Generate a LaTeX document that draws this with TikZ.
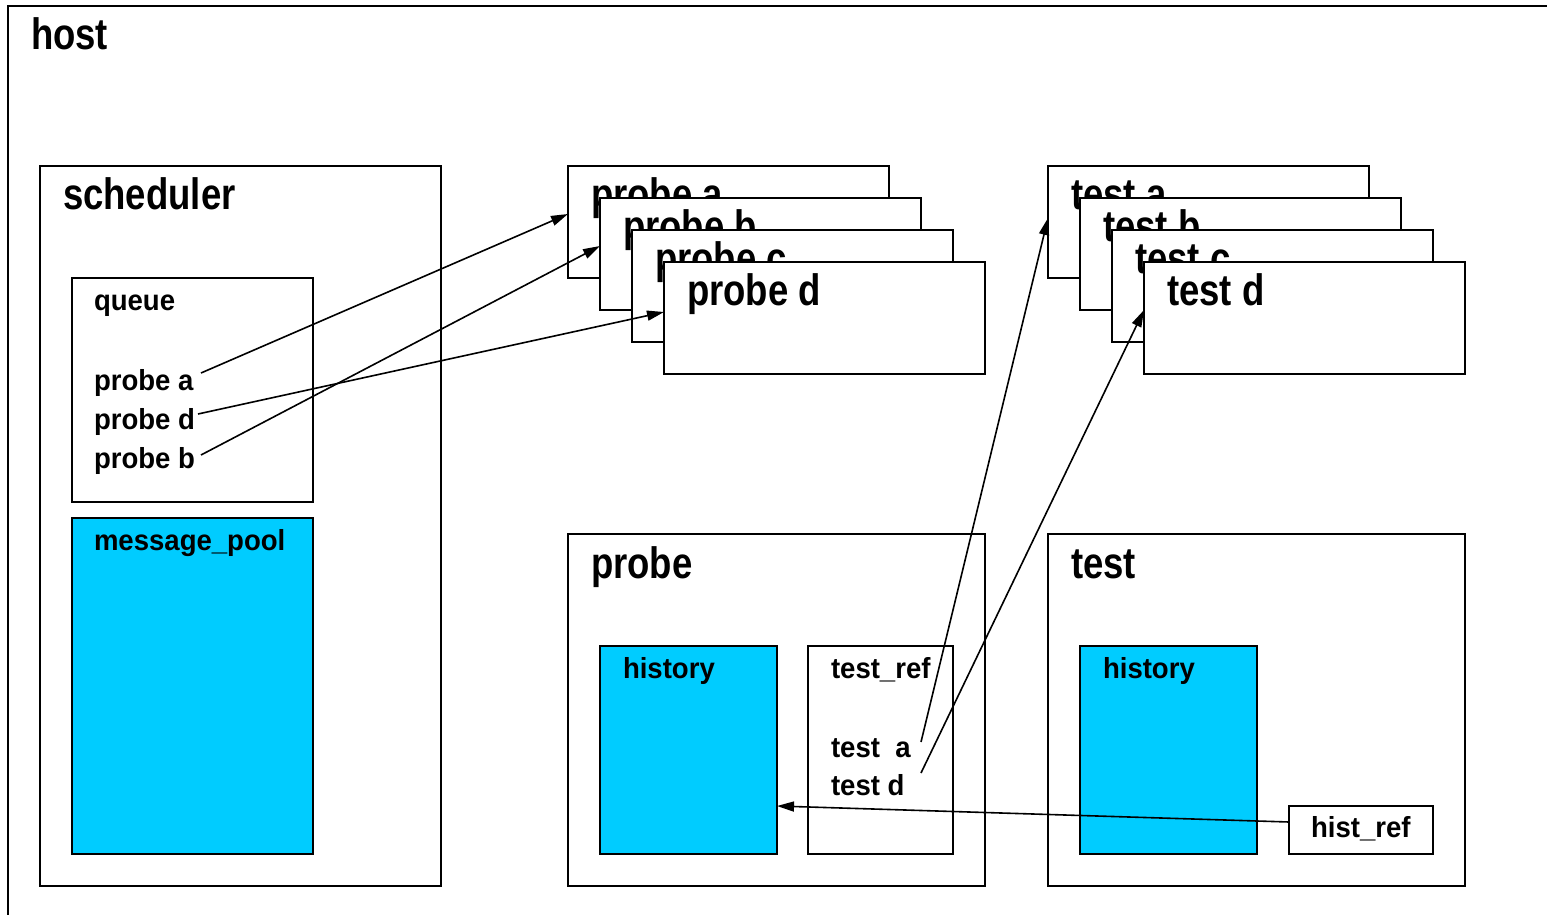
\documentclass[tikz,border=0pt]{standalone}
\usepackage{fontspec}
\setmainfont{Liberation Sans}[FakeStretch=0.95]
\newfontfamily\narrowfont{Liberation Sans}[FakeStretch=0.83]
\usetikzlibrary{
	arrows.meta,
	positioning,
	calc
}
\definecolor{poolblue}{HTML}{00CCFF}

\begin{document}
\begin{tikzpicture}[x=1pt, y=-1pt, line width=2pt,
		box/.style={draw, fill=white, rectangle, inner sep=0, outer sep=0, anchor=north west},
		pool/.style={box, fill=poolblue},
		big/.style={font=\narrowfont\fontsize{44}{50}\selectfont\bfseries, inner sep=0, anchor=base west},
		small/.style={font=\fontsize{29}{34}\selectfont\bfseries, inner sep=0, anchor=base west},
		arr/.style={-{Triangle[length=17pt,width=10pt]}, line width=1.6pt}]

		\useasboundingbox (0,0) rectangle (1547,915);
		\clip (0,0) rectangle (1547,915);

		% host
		\node[box, minimum width=1570pt, minimum height=940pt] (H) at (8,6) {};
		\node[big] (Hl) at ($(H.north west)+(22,44)$) {host};

		% scheduler
		\node[box, minimum width=401pt, minimum height=720pt] (S) at (40,166) {};
		\node[big] (Sl) at ($(S.north west)+(22,43)$) {scheduler};

		\node[box, minimum width=241pt, minimum height=224pt] (Q) at (72,278) {};
		\node[small] (Ql) at ($(Q.north west)+(21,32)$) {queue};
		\node[small] (qa) at ($(Ql.base west)+(0,80)$) {probe a};
		\node[small] (qd) at ($(Ql.base west)+(0,119)$) {probe d};
		\node[small] (qb) at ($(Ql.base west)+(0,158)$) {probe b};

		\node[pool, minimum width=241pt, minimum height=336pt] (M) at (72,518) {};
		\node[small] (Ml) at ($(M.north west)+(21,32)$) {message\_pool};

		% probe stack
		\node[box, minimum width=321pt, minimum height=112pt] (P1) at (568,166) {};
		\node[big] at ($(P1.north west)+(22,43)$) {probe a};
		\node[box, minimum width=321pt, minimum height=112pt] (P2) at (600,198) {};
		\node[big] at ($(P2.north west)+(22,43)$) {probe b};
		\node[box, minimum width=321pt, minimum height=112pt] (P3) at (632,230) {};
		\node[big] at ($(P3.north west)+(22,43)$) {probe c};
		\node[box, minimum width=321pt, minimum height=112pt] (P4) at (664,262) {};
		\node[big] at ($(P4.north west)+(22,43)$) {probe d};

		% test stack
		\node[box, minimum width=321pt, minimum height=112pt] (T1) at (1048,166) {};
		\node[big] at ($(T1.north west)+(22,43)$) {test a};
		\node[box, minimum width=321pt, minimum height=112pt] (T2) at (1080,198) {};
		\node[big] at ($(T2.north west)+(22,43)$) {test b};
		\node[box, minimum width=321pt, minimum height=112pt] (T3) at (1112,230) {};
		\node[big] at ($(T3.north west)+(22,43)$) {test c};
		\node[box, minimum width=321pt, minimum height=112pt] (T4) at (1144,262) {};
		\node[big] at ($(T4.north west)+(22,43)$) {test d};

		% probe
		\node[box, minimum width=417pt, minimum height=352pt] (Pb) at (568,534) {};
		\node[big] at ($(Pb.north west)+(22,44)$) {probe};
		\node[pool, minimum width=177pt, minimum height=208pt] (Hp) at (600,646) {};
		\node[small] at ($(Hp.north west)+(22,32)$) {history};
		\node[box, minimum width=145pt, minimum height=208pt] (R1) at (808,646) {};
		\node[small] (R1l) at ($(R1.north west)+(22,32)$) {test\_ref};
		\node[small] (ra) at ($(R1l.base west)+(0,79)$) {test~~a};
		\node[small] (rd) at ($(R1l.base west)+(0,117)$) {test d};

		% test
		\node[box, minimum width=417pt, minimum height=352pt] (Tb) at (1048,534) {};
		\node[big] at ($(Tb.north west)+(22,44)$) {test};
		\node[pool, minimum width=177pt, minimum height=208pt] (Ht) at (1080,646) {};
		\node[small] at ($(Ht.north west)+(22,32)$) {history};
		\node[box, minimum width=144pt, minimum height=48pt] (R2) at (1289,806) {};
		\node[small] at ($(R2.north west)+(21,31)$) {hist\_ref};

		% references
		\draw[arr] ($(qa.base west)+(108,-17)$) -- ($(P1.west)+(0,-8)$);
		\draw[arr] ($(qd.base west)+(105,-15)$) -- ($(P4.west)+(0,-6)$);
		\draw[arr] ($(qb.base west)+(108,-13)$) -- ($(P2.west)+(0,-8)$);
		\draw[arr] ($(ra.base west)+(91,-15)$) -- ($(T1.west)+(0,-4)$);
		\draw[arr] ($(rd.base west)+(91,-22)$) -- ($(T4.west)+(0,-8)$);
		\draw[arr] ($(R2.west)+(0,-8)$) -- ($(Hp.east)+(0,56)$);

	\end{tikzpicture}
\end{document}
